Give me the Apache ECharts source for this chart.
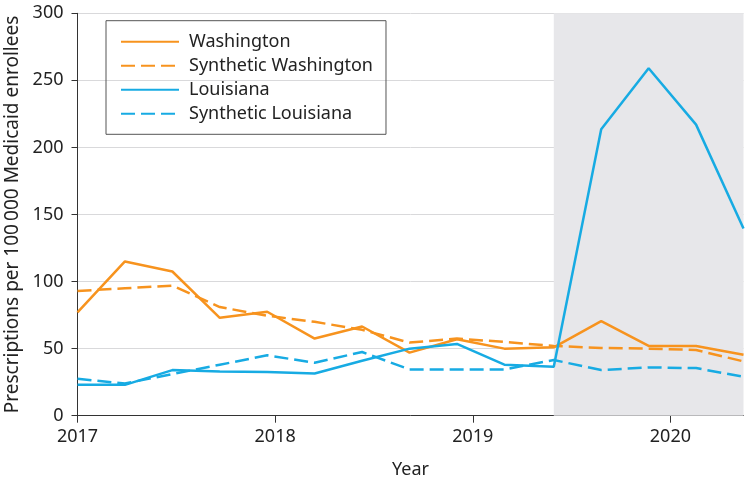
<!DOCTYPE html>
<html><head><meta charset="utf-8">
<script src="https://cdn.jsdelivr.net/npm/echarts@6/dist/echarts.min.js"></script>
<style>html,body{margin:0;padding:0;background:#fff}#c{width:750px;height:480px}</style>
</head><body><div id="c"></div>
<script>
const periods = [2017.00, 2017.24, 2017.48, 2017.72, 2017.96, 2018.20, 2018.44, 2018.68, 2018.92, 2019.16, 2019.41, 2019.65, 2019.89, 2020.13, 2020.37];
const washington = [77, 115, 107.5, 73, 77.5, 57.5, 66.5, 47, 57, 50, 51, 70.5, 52, 52, 45.5];
const syntheticWashington = [93, 95, 97, 81, 74.5, 70, 64, 54.5, 57.5, 55, 52, 50.5, 50, 49, 40.5];
const louisiana = [23, 23, 34, 33, 32.5, 31.5, 41, 50, 53.5, 38, 36.5, 213.5, 259, 217, 139.5];
const syntheticLouisiana = [27.5, 24, 31, 38, 45, 39.5, 47.5, 34.5, 34.5, 34.5, 41.5, 34, 36, 35.5, 29];
const yearTicks = [2017, 2018, 2019, 2020];
const policyStart = 2019.41;
const xEnd = 2020.37;

const ORANGE = '#F7931E';
const BLUE = '#17ABE3';
const FONT = 'Noto Sans';
const pairs = arr => periods.map((x, i) => [x, arr[i]]);

function lineSeries(name, data, color, dashed) {
  return {
    name, type: 'line', data: pairs(data), symbol: 'none', showSymbol: false,
    lineStyle: { color, width: 2.5, type: dashed ? [14, 6] : 'solid' },
    itemStyle: { color }, z: 3, animation: false
  };
}

const chart = echarts.init(document.getElementById('c'), null, { renderer: 'canvas' });
chart.setOption({
  animation: false,
  textStyle: { fontFamily: FONT },
  grid: { left: 77.5, right: 6.5, top: 13.3, bottom: 64.3, containLabel: false, outerBoundsMode: 'none' },
  legend: {
    orient: 'vertical', left: 106, top: 20.7,
    padding: [12, 13, 11.6, 14],
    borderColor: '#555', borderWidth: 1, borderRadius: 0,
    itemWidth: 58, itemHeight: 14, itemGap: 6,
    itemStyle: { opacity: 0 },
    textStyle: { fontSize: 18, lineHeight: 18, color: '#222', fontFamily: FONT, padding: [0, 0, 0, 5] },
    data: ['Washington', 'Synthetic Washington', 'Louisiana', 'Synthetic Louisiana']
  },
  xAxis: {
    type: 'value', min: 2017, max: xEnd, interval: 1,
    name: 'Year', nameLocation: 'middle', nameGap: 45,
    nameTextStyle: { fontSize: 18, color: '#222', fontFamily: FONT },
    axisLine: { show: true, lineStyle: { color: '#333', width: 1 } },
    axisTick: { show: true, length: 7, customValues: yearTicks, lineStyle: { color: '#333' } },
    axisLabel: { customValues: yearTicks, fontSize: 18, color: '#222', margin: 12, formatter: v => String(v) },
    splitLine: { show: false }
  },
  yAxis: {
    type: 'value', min: 0, max: 300, interval: 50,
    name: 'Prescriptions per 100\u2009000 Medicaid enrollees', nameLocation: 'middle', nameGap: 51,
    nameTextStyle: { fontSize: 19, color: '#222', fontFamily: FONT },
    axisLine: { show: true, lineStyle: { color: '#333', width: 1 } },
    axisTick: { show: true, length: 6, lineStyle: { color: '#333' } },
    axisLabel: { fontSize: 18, color: '#222', margin: 14, formatter: v => String(v) },
    splitLine: { show: true, lineStyle: { color: '#d9d9db', width: 1 } }
  },
  series: [
    {
      name: 'shade', type: 'line', data: [], z: -1, silent: true,
      markArea: {
        silent: true,
        itemStyle: { color: '#e7e7ea' },
        data: [[{ xAxis: policyStart }, { xAxis: xEnd }]]
      }
    },
    lineSeries('Washington', washington, ORANGE, false),
    lineSeries('Synthetic Washington', syntheticWashington, ORANGE, true),
    lineSeries('Louisiana', louisiana, BLUE, false),
    lineSeries('Synthetic Louisiana', syntheticLouisiana, BLUE, true)
  ]
});
</script></body></html>
